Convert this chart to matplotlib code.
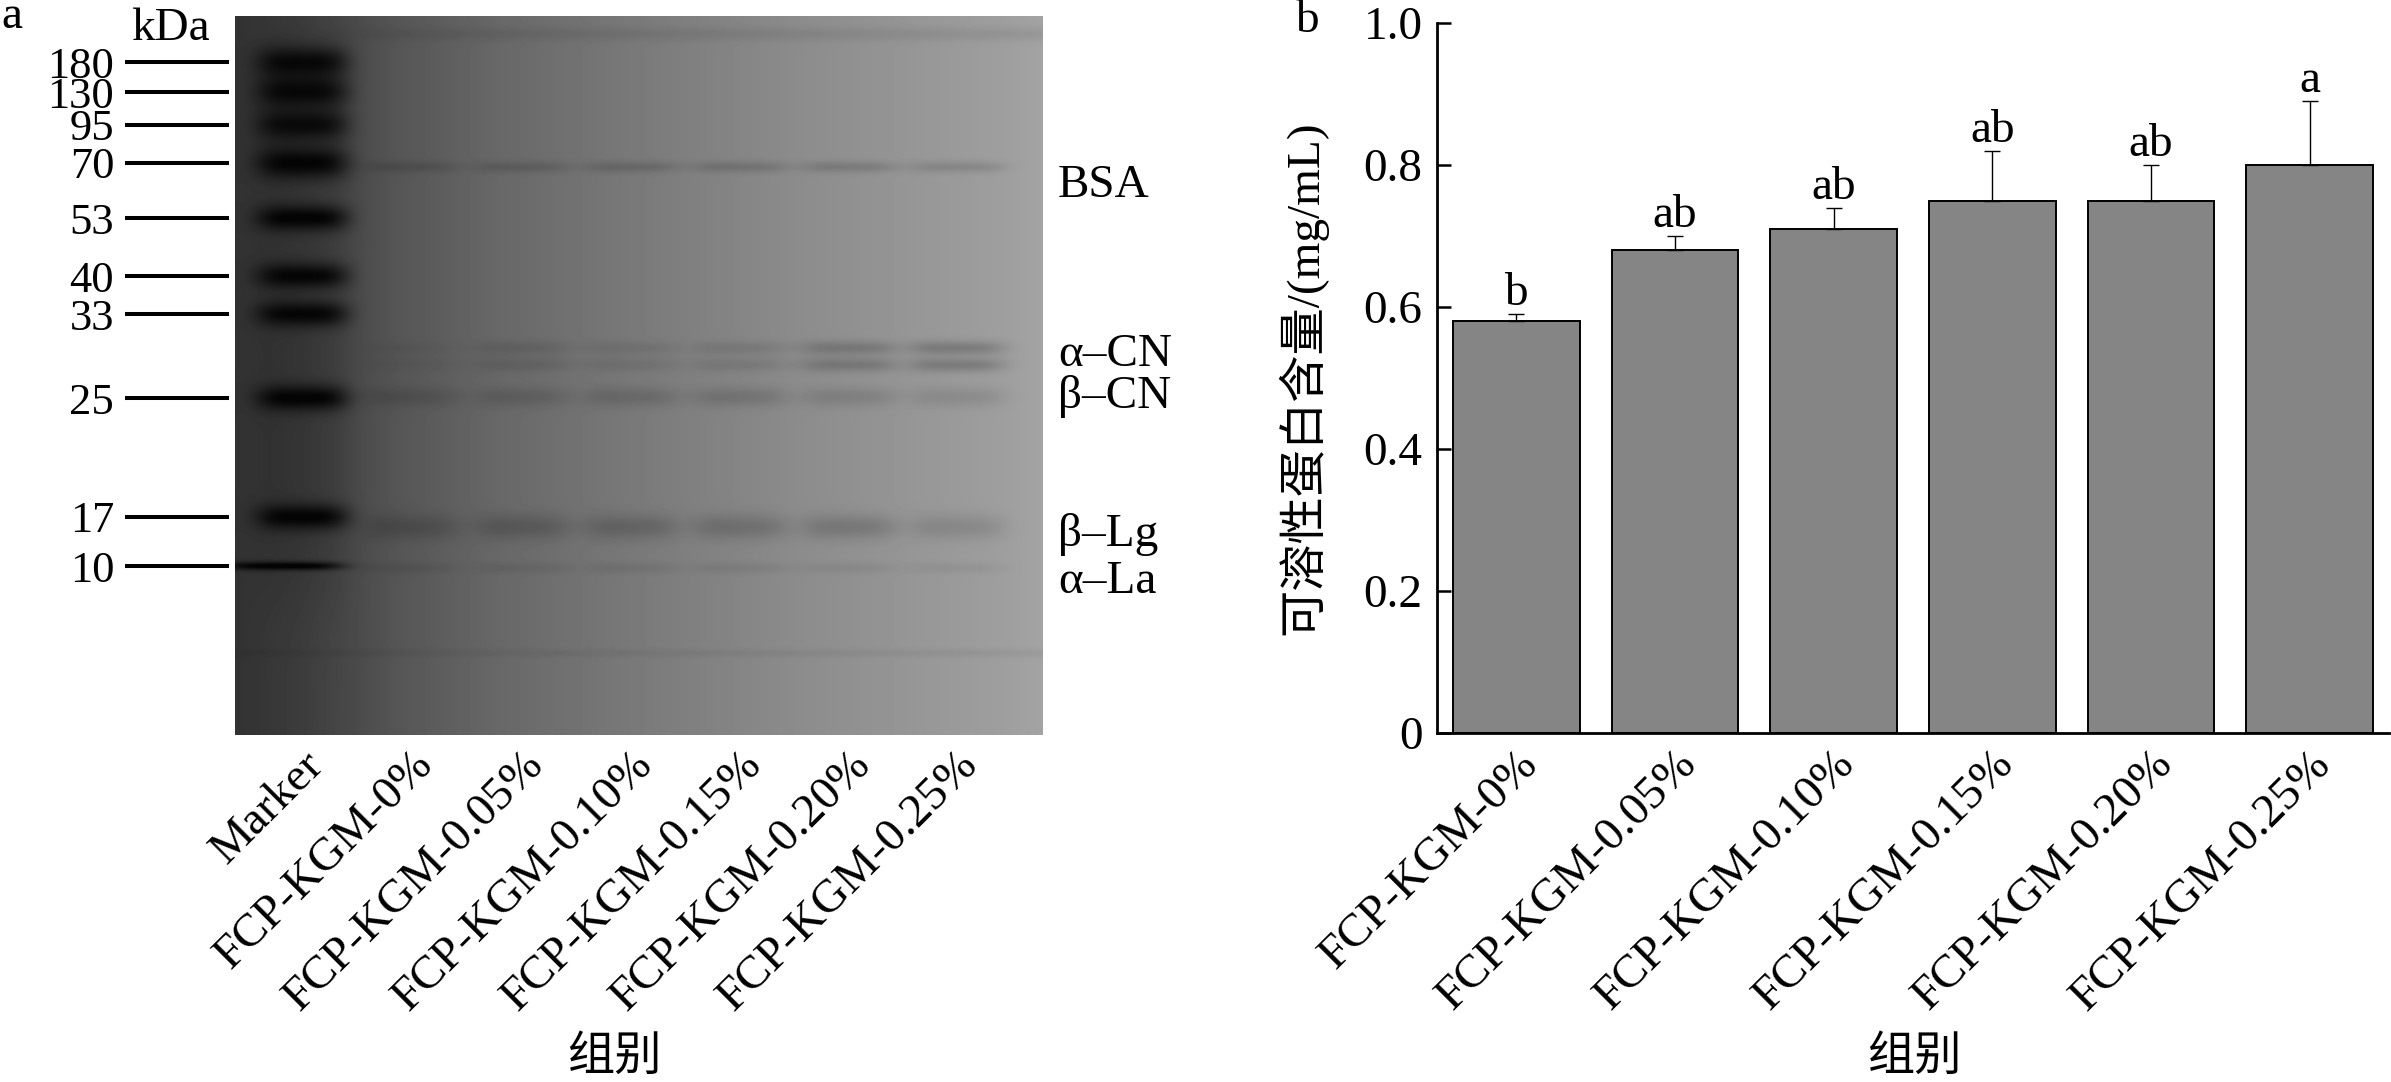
import numpy as np
import matplotlib
matplotlib.use('Agg')
import matplotlib.pyplot as plt

plt.rcParams['font.family'] = ['Liberation Serif', 'Noto Sans CJK SC', 'DejaVu Sans']

# ---------------- Panel a : SDS-PAGE gel ----------------
lane_labels = ["Marker", "FCP-KGM-0%", "FCP-KGM-0.05%", "FCP-KGM-0.10%",
               "FCP-KGM-0.15%", "FCP-KGM-0.20%", "FCP-KGM-0.25%"]
lane_pos = [67, 177, 287, 396, 505, 614, 722]          # lane centres (gel px)
marker_kda = [180, 130, 95, 70, 53, 40, 33, 25, 17, 10]
marker_pos = [46, 76, 109, 147, 202, 260, 298, 382, 501, 550]   # migration (gel px)
marker_strength = [0.78, 0.75, 0.72, 0.82, 0.84, 0.80, 0.80, 0.84, 0.84, 0.92]
protein_names = ["BSA", "α–CN", "β–CN", "β–Lg", "α–La"]
protein_pos = [151, 340, 381, 511, 552]
protein_strength = [
    [0.13, 0.14, 0.15, 0.15, 0.15, 0.13],   # BSA
    [0.04, 0.10, 0.08, 0.10, 0.18, 0.20],   # alpha-CN
    [0.12, 0.13, 0.14, 0.14, 0.12, 0.10],   # beta-CN
    [0.16, 0.18, 0.18, 0.17, 0.17, 0.12],   # beta-Lg
    [0.07, 0.07, 0.07, 0.07, 0.06, 0.05],   # alpha-La
]

# ---------------- Panel b : soluble protein ----------------
groups = ["FCP-KGM-0%", "FCP-KGM-0.05%", "FCP-KGM-0.10%",
          "FCP-KGM-0.15%", "FCP-KGM-0.20%", "FCP-KGM-0.25%"]
values = [0.58, 0.68, 0.71, 0.75, 0.75, 0.80]
errors = [0.01, 0.02, 0.03, 0.07, 0.05, 0.09]
letters = ["b", "ab", "ab", "ab", "ab", "a"]
yticks = [0, 0.2, 0.4, 0.6, 0.8, 1.0]
ytick_labels = ["0", "0.2", "0.4", "0.6", "0.8", "1.0"]

FS = 34
W_PX, H_PX = 2391, 1082
fig = plt.figure(figsize=(W_PX / 100, H_PX / 100), dpi=100)

# ---- gel image ----
GW, GH = 808, 719
xs = np.arange(GW) + 0.5
ys = np.arange(GH) + 0.5
bg = np.interp(xs, [0, 65, 165, 265, 405, 565, 765, 808],
               [50, 60, 86, 104, 122, 140, 158, 163])
X, Y = np.meshgrid(xs, ys)
D = np.zeros((GH, GW))


def xprof(c, hw, p=4):
    return np.exp(-np.abs((X - c) / hw) ** p)


def yprof(c, s):
    return np.exp(-0.5 * ((Y - c) / s) ** 2)


def ywin(a, b, s):
    return 1 / (1 + np.exp(-(Y - a) / s)) * 1 / (1 + np.exp((Y - b) / s))


# marker lane smear
D += 0.12 * xprof(lane_pos[0], 50) * ywin(30, 580, 20)
for i, (p, s) in enumerate(zip(marker_pos, marker_strength)):
    last = i == len(marker_pos) - 1
    sig = 3.0 if last else (11 if i < 4 else 9)
    hw = 60 if last else 46
    D += s * xprof(lane_pos[0] + (-20 if last else 0), hw) * yprof(p, sig)
# sample lanes
for bi, (p, row) in enumerate(zip(protein_pos, protein_strength)):
    for li, s in enumerate(row):
        c = lane_pos[li + 1]
        if bi == 1:  # doublet
            D += s * xprof(c, 48) * (yprof(p - 8, 5) + yprof(p + 9, 5))
        else:
            sig = {0: 4, 2: 7, 3: 9, 4: 4}[bi]
            D += s * xprof(c, 48) * yprof(p, sig)
# faint artefacts
D += 0.07 * yprof(18, 5) * (1 / (1 + np.exp(-(X - 120) / 30)))
D += 0.05 * yprof(637, 3)
D = np.clip(D, 0, 0.93)
img = bg[None, :] * (1 - D)

ax_gel = fig.add_axes([235 / W_PX, (H_PX - 735) / H_PX, GW / W_PX, GH / H_PX])
ax_gel.imshow(img, cmap='gray', vmin=0, vmax=255, extent=(0, GW, GH, 0),
              aspect='auto', interpolation='bilinear')
ax_gel.set_xlim(0, GW)
ax_gel.set_ylim(GH, 0)
for sp in ax_gel.spines.values():
    sp.set_visible(False)
ax_gel.spines['left'].set_position(('outward', 4))
ax_gel.set_yticks(marker_pos, [str(k) for k in marker_kda])
ax_gel.tick_params(axis='y', length=75, width=2.9, pad=8, labelsize=32,
                   direction='out', colors='black')
ax_gel.set_xticks(lane_pos, lane_labels, rotation=45, ha='right',
                  rotation_mode='anchor')
ax_gel.tick_params(axis='x', length=0, pad=6, labelsize=FS)

protein_label_y = [170, 339, 381, 518, 566]
for name, ly in zip(protein_names, protein_label_y):
    ax_gel.text(GW + 15, ly, name, ha='left', va='center', fontsize=FS,
                clip_on=False)

fig.text(170 / W_PX, 1 - 40 / H_PX, "kDa", ha='center', va='baseline', fontsize=FS)
fig.text(1 / W_PX, 1 - 28 / H_PX, "a", ha='left', va='baseline', fontsize=FS)
fig.text(614 / W_PX, 1 - 1058 / H_PX, "组别", ha='center', va='center', fontsize=FS)

# ---- bar chart ----
ax = fig.add_axes([1437 / W_PX, (H_PX - 733) / H_PX, 952 / W_PX, 710 / H_PX])
x = np.arange(len(groups))
ax.bar(x, values, width=0.8, color='#858585', edgecolor='black',
       linewidth=1.4, zorder=2)
ax.errorbar(x, values, yerr=[np.zeros(len(x)), errors], fmt='none',
            ecolor='black', elinewidth=1.0, capsize=6, capthick=1.0, zorder=3)
for xi, v, e, l in zip(x, values, errors, letters):
    ax.annotate(l, xy=(xi, v + e), xytext=(0, 6.5), textcoords='offset points',
                ha='center', va='baseline', fontsize=FS)
ax.set_xlim(-0.5, 5.5)
ax.set_ylim(0, 1.0)
for s in ['top', 'right']:
    ax.spines[s].set_visible(False)
for s in ['left', 'bottom']:
    ax.spines[s].set_linewidth(2.0)
ax.set_yticks(yticks, ytick_labels)
ax.set_xticks(x, groups, rotation=45, ha='right', rotation_mode='anchor')
ax.tick_params(direction='in', length=10, width=1.8, labelsize=FS)
ax.tick_params(axis='y', pad=10.5)
ax.tick_params(axis='x', pad=7)

fig.text(1302 / W_PX, 1 - 378 / H_PX, "可溶性蛋白含量/(mg/mL)", rotation=90,
         ha='center', va='center', fontsize=FS)
fig.text(1914 / W_PX, 1 - 1058 / H_PX, "组别", ha='center', va='center', fontsize=FS)
fig.text(1295 / W_PX, 1 - 32 / H_PX, "b", ha='left', va='baseline', fontsize=FS)

fig.savefig('out.png', dpi=100)
